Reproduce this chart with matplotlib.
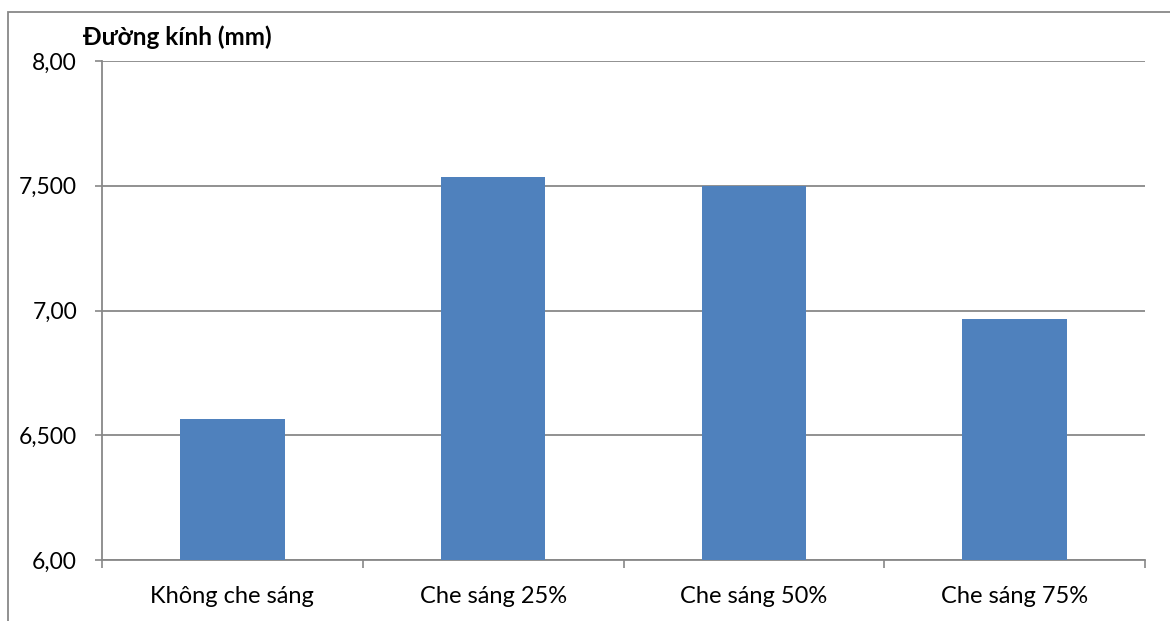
import matplotlib.pyplot as plt
from matplotlib.patches import Rectangle

categories = ["Không che sáng", "Che sáng 25%", "Che sáng 50%", "Che sáng 75%"]
diameters = [6.565, 7.535, 7.50, 6.966]
y_ticks = [6.0, 6.5, 7.0, 7.5, 8.0]
y_tick_labels = ["6,00", "6,500", "7,00", "7,500", "8,00"]

BAR_COLOR = "#4F81BD"
LINE_COLOR = "#888888"

plt.rcParams["font.family"] = ["Lato", "DejaVu Sans"]

fig = plt.figure(figsize=(11.70, 6.21), dpi=100)
W, H = 1170, 621
ax = fig.add_axes([102 / W, 1 - 560 / H, (1145 - 102) / W, (560 - 61) / H])

x = range(len(categories))
ax.bar(x, diameters, width=0.4, color=BAR_COLOR, zorder=3)

ax.set_xlim(-0.5, len(categories) - 0.5)
ax.set_ylim(6.0, 8.0)
ax.set_yticks(y_ticks)
ax.set_yticklabels(y_tick_labels, fontsize=16.5)
ax.set_xticks(list(x))
ax.set_xticklabels(categories, fontsize=17)
ax.tick_params(axis="x", length=0, pad=19)
ax.tick_params(axis="y", length=5, width=1.2, color=LINE_COLOR, pad=13)

# category boundary ticks below the x axis
ax.set_xticks([i - 0.5 for i in range(len(categories) + 1)], minor=True)
ax.tick_params(axis="x", which="minor", length=6, width=1.2, color=LINE_COLOR)

ax.yaxis.grid(True, color=LINE_COLOR, linewidth=1.3, zorder=0)
ax.set_axisbelow(True)
for side in ("top", "right"):
    ax.spines[side].set_visible(False)
for side in ("left", "bottom"):
    ax.spines[side].set_color(LINE_COLOR)
    ax.spines[side].set_linewidth(1.3)

fig.text(83 / W, 1 - 37 / H, "Đường kính (mm)", fontsize=17.5, fontweight="bold",
         ha="left", va="center")

# chart-area frame
fig.patches.append(Rectangle((8 / W, -0.1), 1.2, 1 - 12 / H + 0.1,
                             transform=fig.transFigure, fill=False,
                             edgecolor=LINE_COLOR, linewidth=1.3))

fig.savefig("out.png", dpi=100)
